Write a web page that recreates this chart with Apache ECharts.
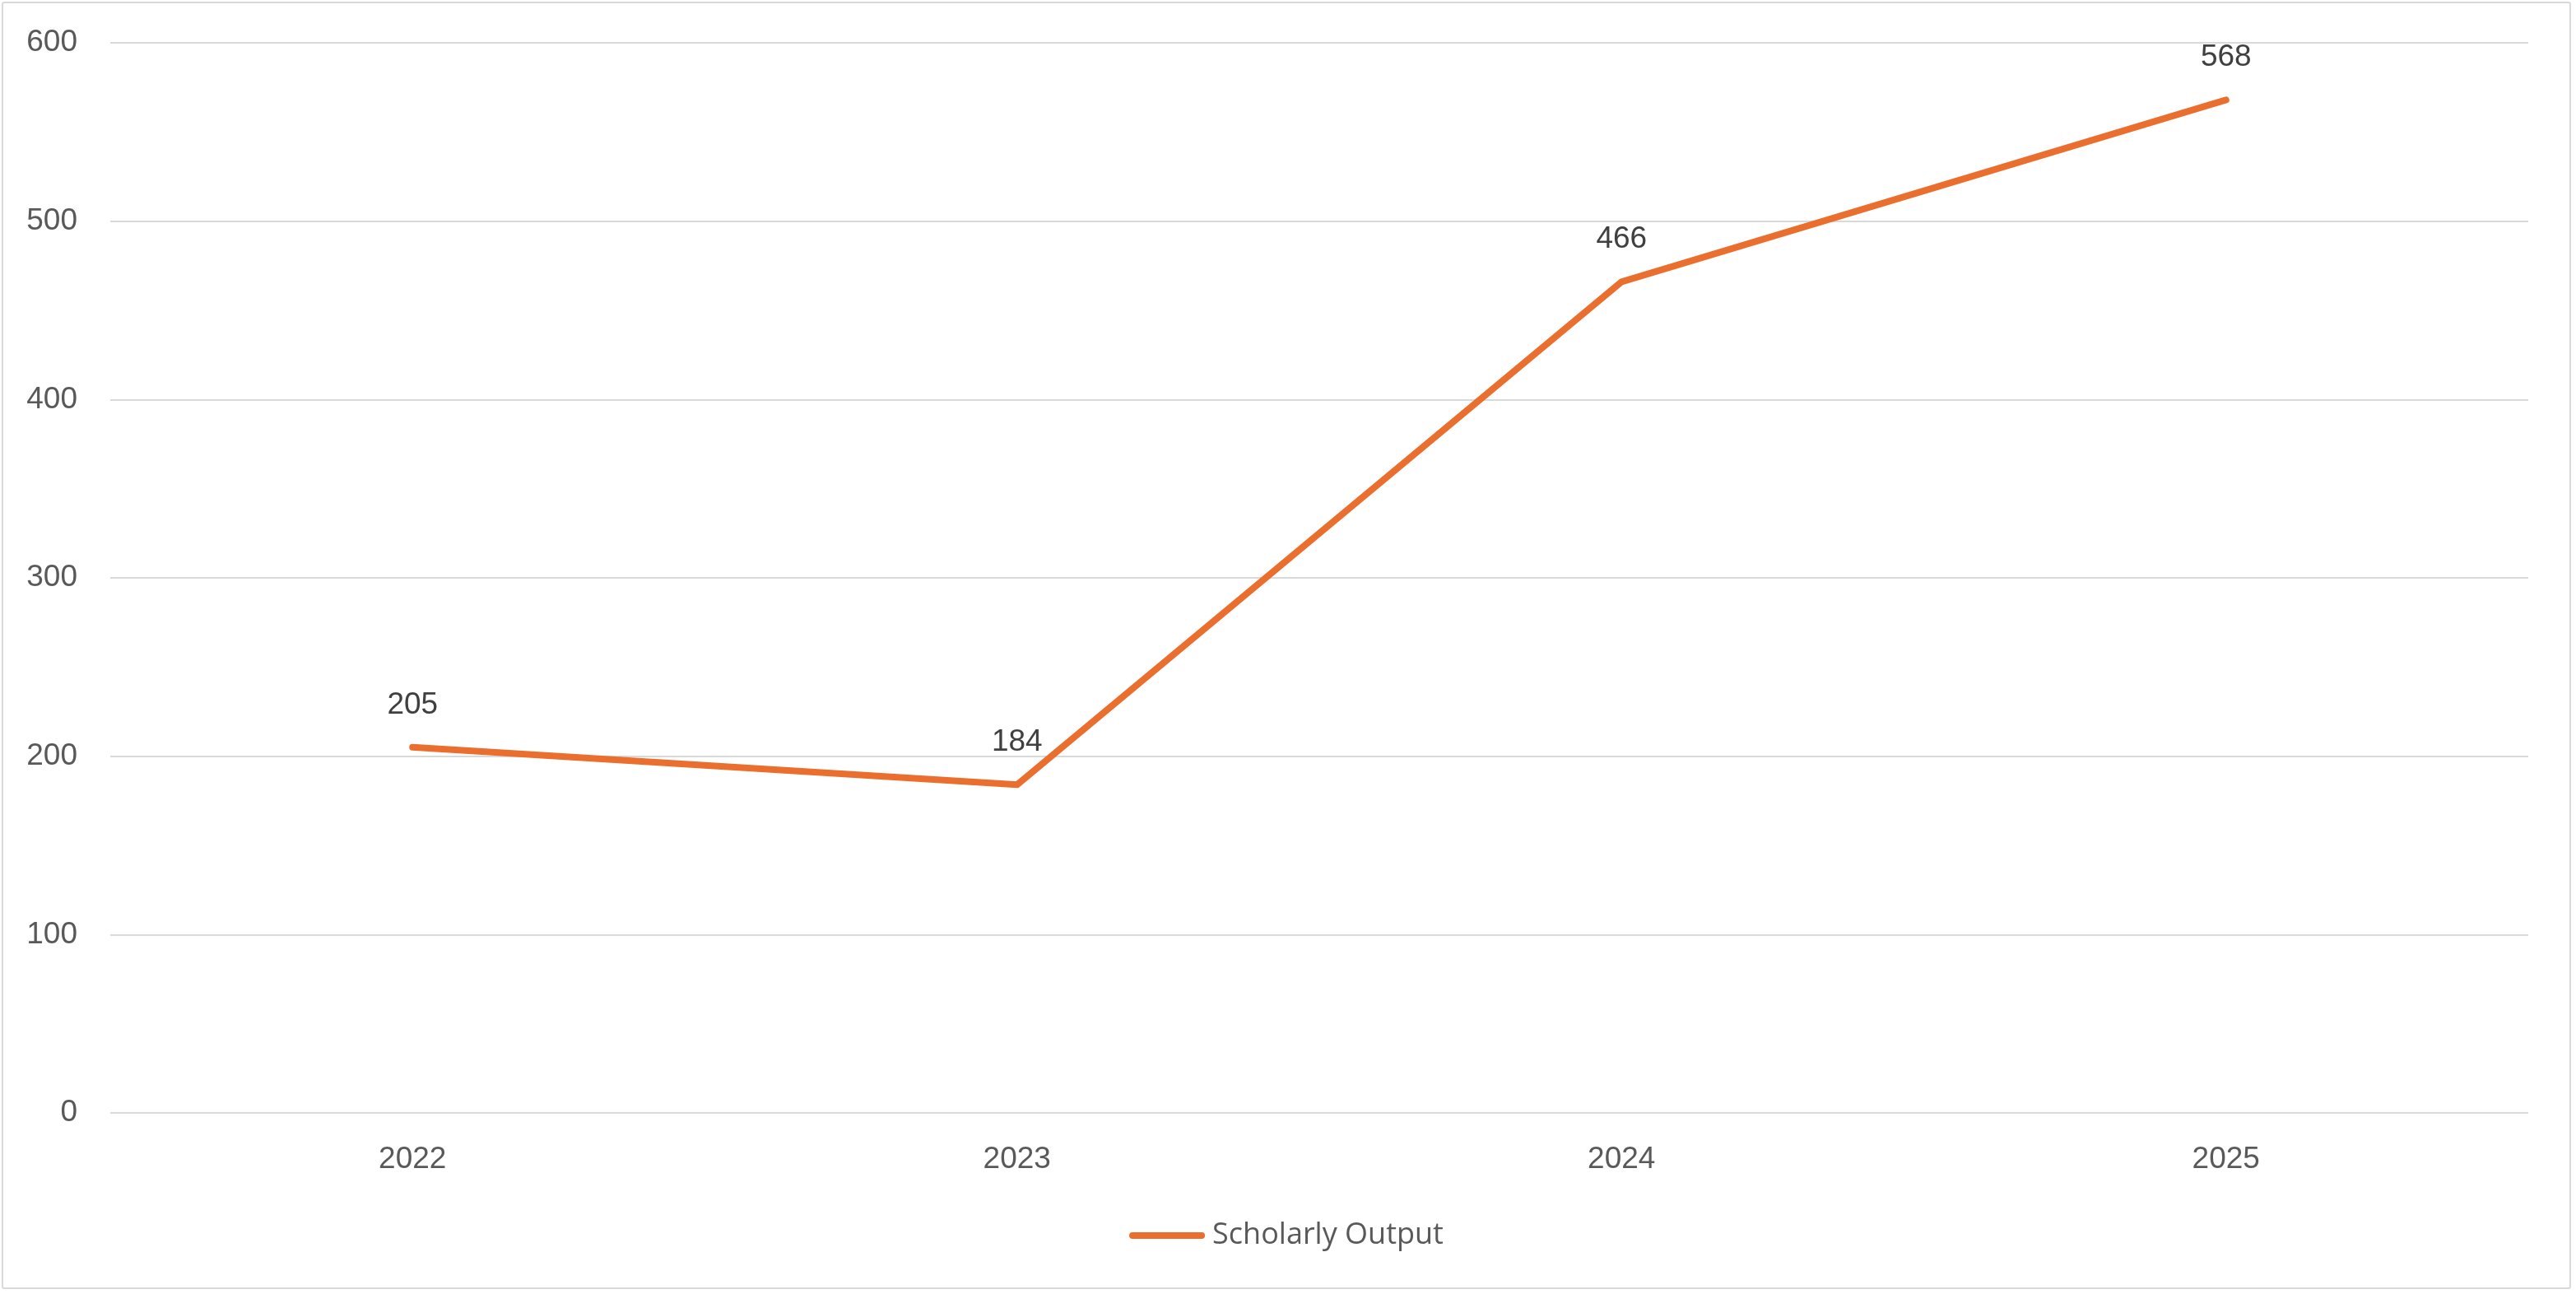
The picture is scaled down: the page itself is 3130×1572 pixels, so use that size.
<!DOCTYPE html>
<html>
<head>
<meta charset="utf-8">
<script src="https://cdn.jsdelivr.net/npm/echarts@6/dist/echarts.min.js"></script>
<style>
  html, body { margin: 0; padding: 0; background: #fff; }
  #chart {
    position: absolute; left: 2px; top: 2px;
    width: 3122px; height: 1564px;
    border: 2px solid #d9d9d9; border-radius: 3px;
    box-sizing: border-box;
  }
</style>
</head>
<body>
<div id="chart"></div>
<script>
// Valeurs
const annees = ["2022", "2023", "2024", "2025"];
const production = [205, 184, 466, 568];
const graduations = [0, 100, 200, 300, 400, 500, 600];

const orange = "#ea6e2d";
const police = "'Liberation Sans', Arial, sans-serif";

const chart = echarts.init(document.getElementById("chart"));
chart.setOption({
  animation: false,
  textStyle: { fontFamily: police },
  grid: { left: 130, right: 50, top: 48, bottom: 212 },
  legend: {
    data: ["Scholarly Output"],
    left: "center",
    top: 1474,
    itemWidth: 92,
    itemHeight: 8,
    icon: "path://M4,0 L88,0 A4,4 0 0 1 88,8 L4,8 A4,4 0 0 1 4,0 Z",
    itemStyle: { color: orange },
    textStyle: { fontSize: 36, color: "#595959", fontFamily: "'Open Sans', sans-serif", padding: [0, 0, 0, 4] }
  },
  xAxis: {
    type: "category",
    data: annees,
    boundaryGap: true,
    axisLine: { show: false },
    axisTick: { show: false },
    axisLabel: { fontSize: 37, color: "#595959", margin: 38 }
  },
  yAxis: {
    type: "value",
    min: graduations[0],
    max: graduations[graduations.length - 1],
    interval: 100,
    axisLine: { show: false },
    axisTick: { show: false },
    axisLabel: { fontSize: 37, color: "#595959", margin: 40 },
    splitLine: { lineStyle: { color: "#d9d9d9", width: 2 } }
  },
  series: [{
    name: "Scholarly Output",
    type: "line",
    data: production,
    symbol: "circle",
    symbolSize: 2,
    showAllSymbol: true,
    lineStyle: { color: orange, width: 8, cap: "round", join: "round" },
    itemStyle: { color: orange },
    label: {
      show: true,
      position: "top",
      distance: 32,
      fontSize: 37,
      color: "#404040"
    }
  }]
});
</script>
</body>
</html>
